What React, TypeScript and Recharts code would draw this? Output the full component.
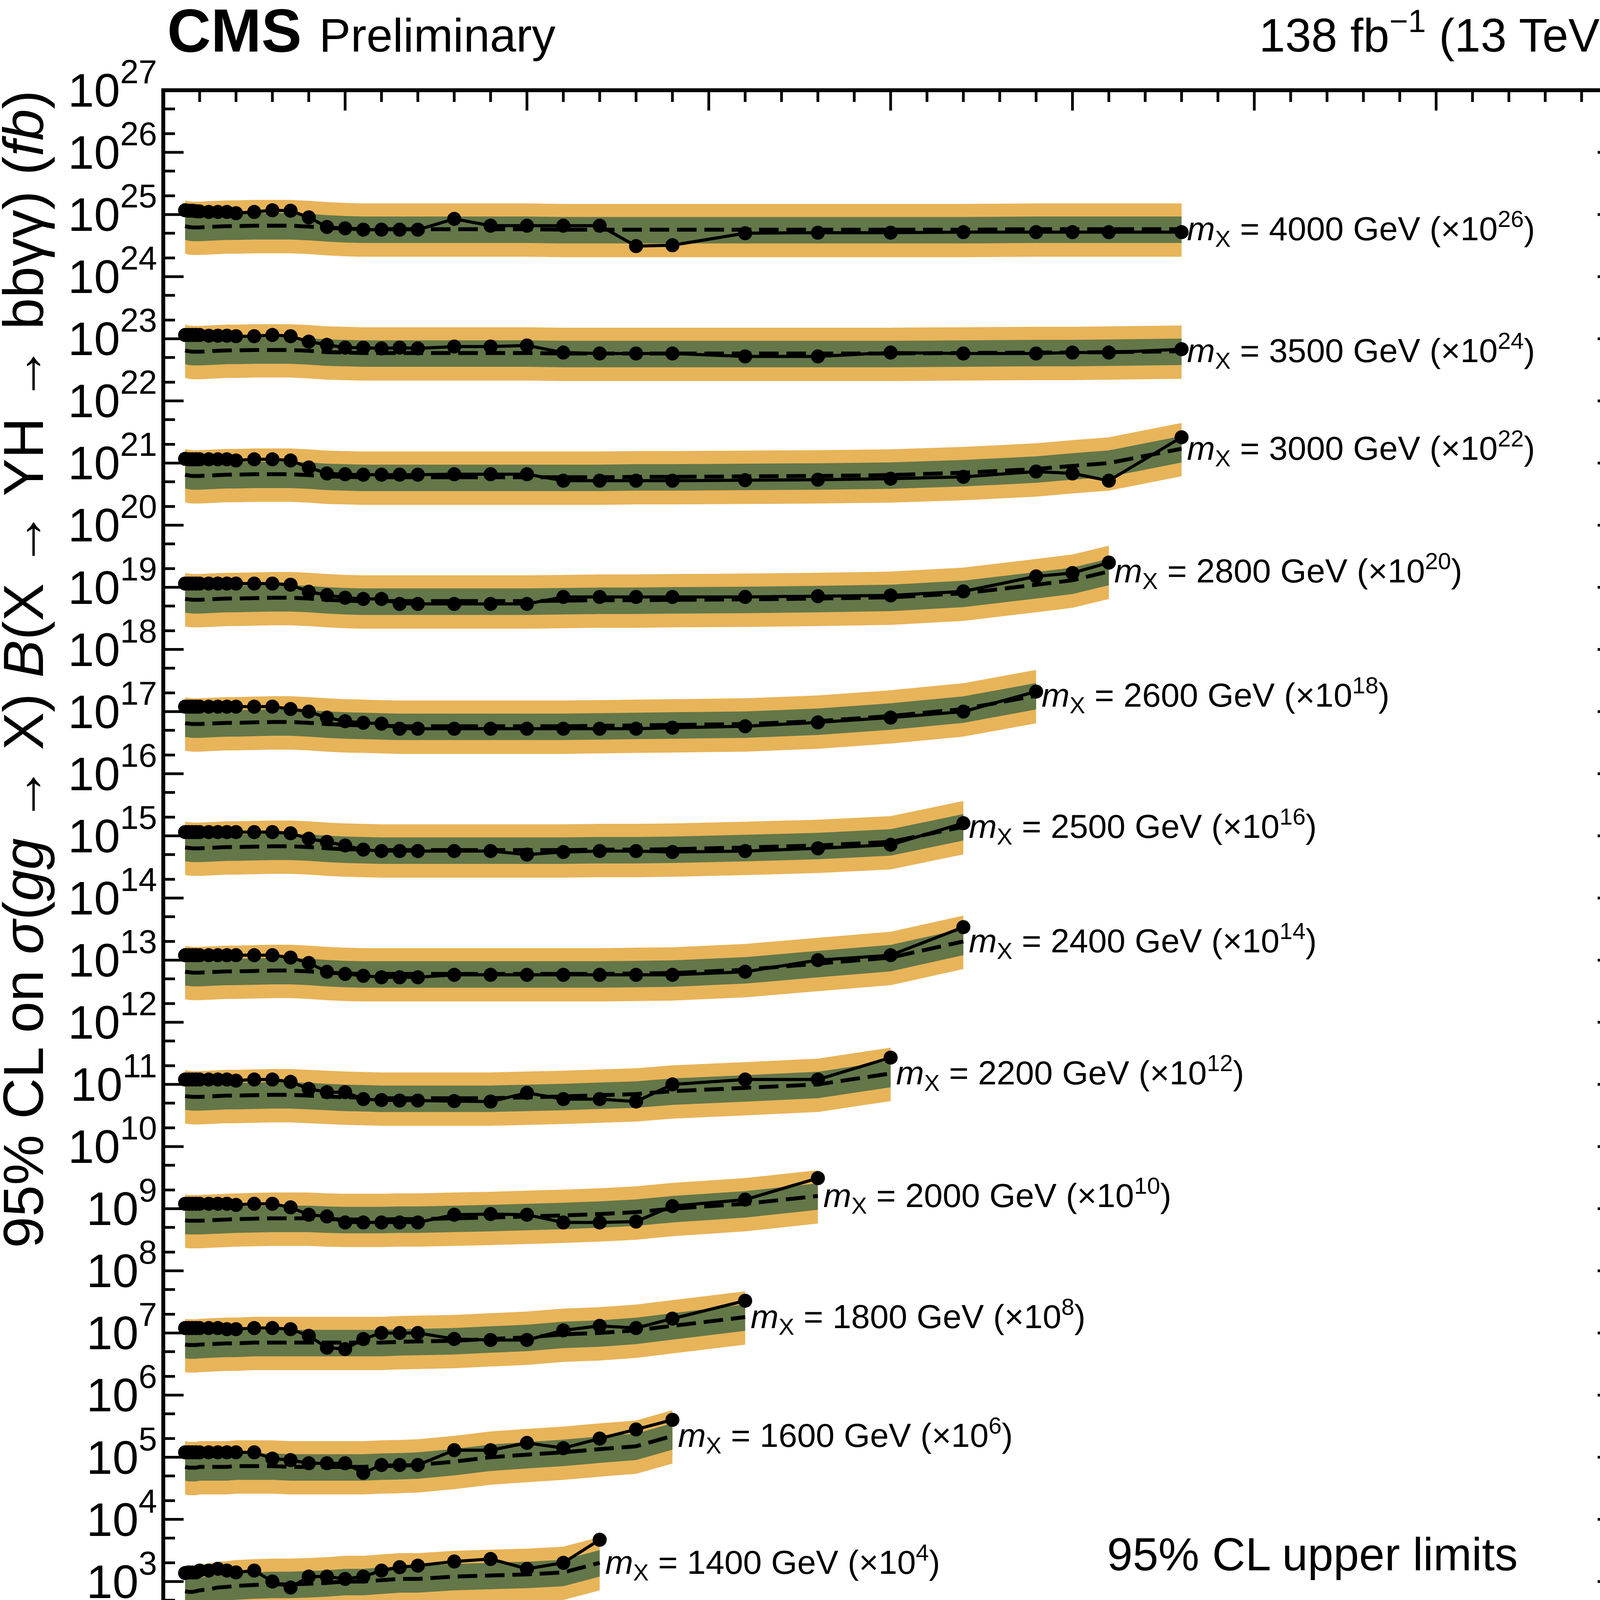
import { Area, ComposedChart, Line, ReferenceDot, XAxis, YAxis } from "recharts";

// mY grid shared by all mass points (GeV)
const MY = [60, 70, 80, 90, 100, 125, 150, 175, 200, 250, 300, 350, 400, 450, 500, 550, 600, 650, 700, 800, 900, 1000, 1100, 1200, 1300, 1400, 1600, 1800, 2000, 2200, 2400, 2500, 2600, 2800];

// unscaled limits in fb
const OBS_1000 = [0.19, 0.16, 0.16, 0.17, 0.19, 0.2, 0.21, 0.2, 0.21, 0.2, 0.23, 0.16, 0.16, 0.19, 0.19, 0.14, 0.17, 0.22, 0.31, 0.5];
const EXP_1000 = [0.08, 0.07, 0.065, 0.062, 0.06, 0.07, 0.08, 0.09, 0.095, 0.1, 0.11, 0.11, 0.1, 0.1, 0.11, 0.11, 0.12, 0.13, 0.14, 0.28];
const OBS_1200 = [0.14, 0.14, 0.13, 0.14, 0.15, 0.16, 0.18, 0.19, 0.17, 0.2, 0.18, 0.17, 0.13, 0.18, 0.18, 0.2, 0.21, 0.19, 0.15, 0.19, 0.23, 0.52];
const EXP_1200 = [0.08, 0.075, 0.07, 0.07, 0.07, 0.075, 0.08, 0.085, 0.09, 0.095, 0.1, 0.1, 0.1, 0.1, 0.1, 0.105, 0.11, 0.11, 0.115, 0.12, 0.13, 0.2];
const OBS_1400 = [0.137, 0.14, 0.14, 0.14, 0.15, 0.15, 0.16, 0.15, 0.14, 0.15, 0.1, 0.08, 0.12, 0.12, 0.11, 0.12, 0.15, 0.17, 0.18, 0.21, 0.23, 0.16, 0.2, 0.47];
const EXP_1400 = [0.07, 0.068, 0.068, 0.07, 0.072, 0.075, 0.08, 0.082, 0.085, 0.088, 0.09, 0.09, 0.092, 0.095, 0.1, 0.1, 0.105, 0.11, 0.11, 0.12, 0.125, 0.13, 0.14, 0.2];
const OBS_1600 = [0.12, 0.12, 0.12, 0.12, 0.12, 0.12, 0.12, 0.12, 0.12, 0.12, 0.095, 0.09, 0.08, 0.08, 0.08, 0.056, 0.075, 0.075, 0.075, 0.13, 0.13, 0.17, 0.14, 0.2, 0.28, 0.4];
const EXP_1600 = [0.07, 0.068, 0.068, 0.068, 0.07, 0.07, 0.07, 0.07, 0.072, 0.072, 0.072, 0.07, 0.07, 0.07, 0.07, 0.07, 0.072, 0.073, 0.075, 0.085, 0.1, 0.11, 0.12, 0.135, 0.15, 0.22];
const OBS_1800 = [0.12, 0.12, 0.12, 0.12, 0.12, 0.12, 0.12, 0.115, 0.115, 0.12, 0.12, 0.115, 0.09, 0.058, 0.055, 0.08, 0.1, 0.1, 0.1, 0.08, 0.077, 0.077, 0.11, 0.13, 0.12, 0.17, 0.33];
const EXP_1800 = [0.065, 0.064, 0.064, 0.064, 0.065, 0.066, 0.067, 0.068, 0.068, 0.07, 0.07, 0.07, 0.07, 0.07, 0.07, 0.07, 0.07, 0.072, 0.073, 0.075, 0.08, 0.085, 0.095, 0.1, 0.11, 0.13, 0.18];
const OBS_2000 = [0.12, 0.12, 0.12, 0.12, 0.12, 0.12, 0.12, 0.12, 0.115, 0.12, 0.12, 0.105, 0.08, 0.075, 0.06, 0.06, 0.06, 0.06, 0.06, 0.08, 0.082, 0.08, 0.06, 0.06, 0.062, 0.11, 0.14, 0.31];
const EXP_2000 = [0.065, 0.064, 0.064, 0.064, 0.064, 0.065, 0.066, 0.067, 0.068, 0.069, 0.07, 0.07, 0.07, 0.068, 0.067, 0.067, 0.067, 0.068, 0.068, 0.07, 0.072, 0.075, 0.078, 0.082, 0.088, 0.1, 0.12, 0.16];
const OBS_2200 = [0.12, 0.12, 0.12, 0.12, 0.12, 0.12, 0.12, 0.12, 0.115, 0.12, 0.12, 0.11, 0.085, 0.075, 0.075, 0.058, 0.056, 0.055, 0.055, 0.054, 0.053, 0.073, 0.058, 0.058, 0.053, 0.1, 0.12, 0.12, 0.27];
const EXP_2200 = [0.065, 0.064, 0.063, 0.063, 0.063, 0.064, 0.065, 0.066, 0.066, 0.067, 0.068, 0.068, 0.066, 0.064, 0.062, 0.061, 0.06, 0.06, 0.06, 0.06, 0.06, 0.062, 0.064, 0.067, 0.07, 0.078, 0.088, 0.1, 0.15];
const OBS_2400 = [0.12, 0.12, 0.12, 0.12, 0.12, 0.12, 0.12, 0.12, 0.12, 0.12, 0.12, 0.11, 0.09, 0.065, 0.06, 0.056, 0.053, 0.053, 0.053, 0.058, 0.058, 0.058, 0.058, 0.058, 0.058, 0.058, 0.065, 0.1, 0.12, 0.34];
const EXP_2400 = [0.065, 0.064, 0.063, 0.063, 0.063, 0.064, 0.065, 0.066, 0.066, 0.067, 0.068, 0.068, 0.066, 0.063, 0.061, 0.06, 0.06, 0.06, 0.06, 0.06, 0.06, 0.06, 0.06, 0.06, 0.061, 0.062, 0.07, 0.088, 0.11, 0.2];
const OBS_2500 = [0.115, 0.115, 0.115, 0.115, 0.115, 0.115, 0.115, 0.115, 0.115, 0.115, 0.115, 0.11, 0.09, 0.08, 0.07, 0.06, 0.057, 0.057, 0.057, 0.057, 0.057, 0.05, 0.055, 0.057, 0.057, 0.055, 0.057, 0.063, 0.072, 0.16];
const EXP_2500 = [0.065, 0.064, 0.063, 0.063, 0.063, 0.064, 0.065, 0.066, 0.066, 0.067, 0.068, 0.068, 0.066, 0.063, 0.061, 0.06, 0.059, 0.059, 0.059, 0.059, 0.059, 0.059, 0.059, 0.06, 0.06, 0.061, 0.065, 0.07, 0.08, 0.14];
const OBS_2600 = [0.12, 0.12, 0.12, 0.12, 0.12, 0.12, 0.12, 0.12, 0.12, 0.12, 0.12, 0.11, 0.1, 0.08, 0.07, 0.066, 0.064, 0.053, 0.053, 0.053, 0.053, 0.053, 0.053, 0.053, 0.053, 0.055, 0.058, 0.067, 0.08, 0.1, 0.21];
const EXP_2600 = [0.065, 0.064, 0.063, 0.063, 0.063, 0.064, 0.065, 0.066, 0.066, 0.067, 0.068, 0.068, 0.066, 0.063, 0.061, 0.06, 0.059, 0.058, 0.058, 0.058, 0.058, 0.058, 0.058, 0.059, 0.06, 0.061, 0.063, 0.07, 0.085, 0.11, 0.18];
const OBS_2800 = [0.115, 0.115, 0.115, 0.115, 0.115, 0.115, 0.115, 0.115, 0.115, 0.115, 0.115, 0.11, 0.085, 0.075, 0.068, 0.065, 0.065, 0.054, 0.054, 0.054, 0.054, 0.054, 0.07, 0.07, 0.07, 0.07, 0.07, 0.072, 0.074, 0.086, 0.15, 0.17, 0.25];
const EXP_2800 = [0.065, 0.064, 0.063, 0.063, 0.063, 0.064, 0.065, 0.066, 0.066, 0.067, 0.068, 0.068, 0.066, 0.063, 0.061, 0.06, 0.06, 0.06, 0.06, 0.06, 0.06, 0.06, 0.061, 0.062, 0.062, 0.063, 0.064, 0.066, 0.069, 0.08, 0.11, 0.13, 0.18];
const OBS_3000 = [0.117, 0.115, 0.115, 0.115, 0.115, 0.115, 0.115, 0.115, 0.11, 0.115, 0.115, 0.11, 0.085, 0.068, 0.066, 0.065, 0.065, 0.065, 0.065, 0.066, 0.066, 0.066, 0.052, 0.052, 0.052, 0.052, 0.053, 0.054, 0.056, 0.06, 0.073, 0.068, 0.052, 0.26];
const EXP_3000 = [0.065, 0.063, 0.062, 0.062, 0.062, 0.063, 0.064, 0.065, 0.065, 0.066, 0.066, 0.066, 0.064, 0.061, 0.06, 0.059, 0.059, 0.059, 0.059, 0.059, 0.059, 0.059, 0.059, 0.059, 0.06, 0.06, 0.061, 0.062, 0.064, 0.07, 0.08, 0.09, 0.1, 0.17];
const OBS_3500 = [0.115, 0.115, 0.115, 0.115, 0.115, 0.112, 0.112, 0.112, 0.11, 0.11, 0.115, 0.11, 0.09, 0.08, 0.072, 0.072, 0.07, 0.072, 0.07, 0.075, 0.075, 0.078, 0.06, 0.058, 0.058, 0.058, 0.052, 0.052, 0.06, 0.058, 0.058, 0.06, 0.06, 0.068];
const EXP_3500 = [0.065, 0.063, 0.062, 0.062, 0.062, 0.063, 0.064, 0.065, 0.065, 0.066, 0.066, 0.066, 0.064, 0.061, 0.06, 0.059, 0.059, 0.059, 0.059, 0.059, 0.059, 0.059, 0.058, 0.058, 0.058, 0.058, 0.058, 0.058, 0.058, 0.059, 0.06, 0.06, 0.061, 0.063];
const OBS_4000 = [0.117, 0.115, 0.115, 0.113, 0.112, 0.11, 0.11, 0.11, 0.105, 0.11, 0.117, 0.115, 0.09, 0.063, 0.06, 0.057, 0.057, 0.057, 0.057, 0.085, 0.066, 0.066, 0.066, 0.066, 0.031, 0.032, 0.05, 0.051, 0.051, 0.052, 0.052, 0.052, 0.052, 0.052];
const EXP_4000 = [0.065, 0.063, 0.062, 0.062, 0.062, 0.063, 0.064, 0.065, 0.065, 0.066, 0.066, 0.066, 0.064, 0.061, 0.059, 0.058, 0.058, 0.058, 0.058, 0.058, 0.058, 0.058, 0.057, 0.057, 0.057, 0.057, 0.057, 0.057, 0.057, 0.057, 0.058, 0.058, 0.058, 0.058];

// band edges as fractions of the median expected
const BAND_68 = [0.6, 1.6];
const BAND_95 = [0.36, 2.6];

const MX = [1000, 1200, 1400, 1600, 1800, 2000, 2200, 2400, 2500, 2600, 2800, 3000, 3500, 4000];
const SCALE_POW = [0, 2, 4, 6, 8, 10, 12, 14, 16, 18, 20, 22, 24, 26];
const OBS = [OBS_1000, OBS_1200, OBS_1400, OBS_1600, OBS_1800, OBS_2000, OBS_2200, OBS_2400, OBS_2500, OBS_2600, OBS_2800, OBS_3000, OBS_3500, OBS_4000];
const EXP = [EXP_1000, EXP_1200, EXP_1400, EXP_1600, EXP_1800, EXP_2000, EXP_2200, EXP_2400, EXP_2500, EXP_2600, EXP_2800, EXP_3000, EXP_3500, EXP_4000];

const X_TICKS = Array.from({ length: 41 }, (_, i) => i * 100);
const Y_TICKS: number[] = [];
for (let n = -2; n <= 27; n++) {
  Y_TICKS.push(Math.pow(10, n));
  if (n < 27) Y_TICKS.push(2 * Math.pow(10, n), 5 * Math.pow(10, n));
}

const W = 4293;
const H = 5171;
const PL = 418;
const PR = 4142;
const PT = 231;
const PB = 4844;
const ORANGE = "#E8B459";
const GREEN = "#637749";
const FONT = "'Liberation Sans', Arial, sans-serif";

const series = MX.map((mx, k) => {
  const s = Math.pow(10, SCALE_POW[k]);
  const data = OBS[k].map((o, i) => {
    const e = EXP[k][i];
    return {
      my: MY[i],
      obs: o * s,
      exp: e * s,
      b68: [e * BAND_68[0] * s, e * BAND_68[1] * s],
      b95: [e * BAND_95[0] * s, e * BAND_95[1] * s],
    };
  });
  return { mx, pow: SCALE_POW[k], data };
});

function YTick({ y, payload }: any) {
  const v = payload.value;
  const lg = Math.log10(v);
  const major = Math.abs(lg - Math.round(lg)) < 1e-6;
  const len = major ? 52 : 30;
  const n = Math.round(lg);
  return (
    <g>
      <line x1={PL} x2={PL + len} y1={y} y2={y} stroke="#000" strokeWidth={7} />
      <line x1={PR} x2={PR - len} y1={y} y2={y} stroke="#000" strokeWidth={7} />
      {major && (
        <text x={PL - 16} y={y + 42} textAnchor="end" fontSize={120} fontFamily={FONT} fill="#000">
          10
          <tspan dy={-60} fontSize={85}>
            {n < 0 ? `\u2212${-n}` : n}
          </tspan>
        </text>
      )}
    </g>
  );
}

function XTick({ x, payload }: any) {
  const v = payload.value;
  const major = v % 500 === 0;
  const len = major ? 52 : 30;
  return (
    <g>
      <line x1={x} x2={x} y1={PB} y2={PB - len} stroke="#000" strokeWidth={7} />
      <line x1={x} x2={x} y1={PT} y2={PT + len} stroke="#000" strokeWidth={7} />
      {major && (
        <text x={x} y={PB + 150} textAnchor="middle" fontSize={140} fontFamily={FONT} fill="#000">
          {v}
        </text>
      )}
    </g>
  );
}

function MassLabel({ cx, cy, mx, pow }: any) {
  return (
    <text x={cx + 14} y={cy + 28} fontSize={86} fontFamily={FONT} fill="#000">
      <tspan fontStyle="italic">m</tspan>
      <tspan dy={17} fontSize={60}>X</tspan>
      <tspan dy={-17}>{` = ${mx} GeV (\u00d710`}</tspan>
      <tspan dy={-34} fontSize={60}>{pow}</tspan>
      <tspan dy={34}>)</tspan>
    </text>
  );
}

export default function App() {
  return (
    <div style={{ position: "absolute", left: 0, top: 0, width: W, height: H, background: "#fff" }}>
      <ComposedChart
        width={W}
        height={H}
        margin={{ top: PT, right: W - PR, bottom: H - PB - 2, left: PL - 2 }}
      >
        <XAxis
          type="number"
          dataKey="my"
          domain={[0, 4000]}
          ticks={X_TICKS}
          interval={0}
          height={2}
          axisLine={false}
          tickLine={false}
          tickSize={0}
          tick={<XTick />}
          allowDuplicatedCategory={false}
        />
        <YAxis
          scale="log"
          domain={[1e-2, 1e27]}
          ticks={Y_TICKS}
          interval={0}
          width={2}
          axisLine={false}
          tickLine={false}
          tickSize={0}
          tick={<YTick />}
          allowDataOverflow
        />
        {series.map((s) => (
          <Area key={`b95-${s.mx}`} data={s.data} dataKey="b95" type="linear" fill={ORANGE} fillOpacity={1} stroke="none" isAnimationActive={false} />
        ))}
        {series.map((s) => (
          <Area key={`b68-${s.mx}`} data={s.data} dataKey="b68" type="linear" fill={GREEN} fillOpacity={1} stroke="none" isAnimationActive={false} />
        ))}
        {series.map((s) => (
          <Line key={`exp-${s.mx}`} data={s.data} dataKey="exp" type="linear" stroke="#000" strokeWidth={10} strokeDasharray="50 20" dot={false} isAnimationActive={false} />
        ))}
        {series.map((s) => (
          <Line key={`obs-${s.mx}`} data={s.data} dataKey="obs" type="linear" stroke="#000" strokeWidth={8} dot={{ r: 18, fill: "#000", stroke: "#000", strokeWidth: 0 }} isAnimationActive={false} />
        ))}
        {series.map((s) => {
          const last = s.data[s.data.length - 1];
          return (
            <ReferenceDot
              key={`lab-${s.mx}`}
              x={last.my}
              y={last.exp}
              r={0}
              shape={(p: any) => <MassLabel cx={p.cx} cy={p.cy} mx={s.mx} pow={s.pow} />}
            />
          );
        })}
      </ComposedChart>
      <svg width={W} height={H} style={{ position: "absolute", left: 0, top: 0, pointerEvents: "none" }}>
        <rect x={PL} y={PT} width={PR - PL} height={PB - PT} fill="none" stroke="#000" strokeWidth={10} />
        <text x={428} y={132} fontSize={155} fontWeight="bold" fontFamily={FONT}>CMS</text>
        <text x={817} y={132} fontSize={121} fontFamily={FONT}>Preliminary</text>
        <text x={4135} y={132} textAnchor="end" fontSize={120} fontFamily={FONT}>
          138 fb<tspan dy={-50} fontSize={82}>{"\u22121"}</tspan>
          <tspan dy={50}> (13 TeV)</tspan>
        </text>
        <text x={4135} y={5124} textAnchor="end" fontSize={130} fontFamily={FONT}>
          <tspan fontStyle="italic">m</tspan>
          <tspan dy={22} fontSize={90}>Y</tspan>
          <tspan dy={-22}> (GeV)</tspan>
        </text>
        <text transform="rotate(-90 110 231)" x={110} y={231} textAnchor="end" fontSize={145} fontFamily={FONT}>
          {"95% CL on "}
          <tspan fontStyle="italic">{"\u03c3"}</tspan>
          {"("}
          <tspan fontStyle="italic">gg</tspan>
          {" \u2192 X) "}
          <tspan fontStyle="italic">B</tspan>
          {"(X \u2192 YH \u2192 bb\u03b3\u03b3) ("}
          <tspan fontStyle="italic">fb</tspan>
          {")"}
        </text>
        {/* legend */}
        <text x={2834} y={4020} fontSize={118} fontFamily={FONT}>95% CL upper limits</text>
        <line x1={2834} x2={3021} y1={4145} y2={4145} stroke="#000" strokeWidth={8} />
        <circle cx={2927} cy={4145} r={18} fill="#000" />
        <text x={3114} y={4187} fontSize={118} fontFamily={FONT}>Observed</text>
        <line x1={2834} x2={3021} y1={4320} y2={4320} stroke="#000" strokeWidth={10} strokeDasharray="50 20" />
        <text x={3114} y={4362} fontSize={118} fontFamily={FONT}>Median expected</text>
        <rect x={2834} y={4445} width={187} height={92} fill={GREEN} />
        <text x={3114} y={4533} fontSize={118} fontFamily={FONT}>68% expected</text>
        <rect x={2834} y={4616} width={187} height={92} fill={ORANGE} />
        <text x={3114} y={4704} fontSize={118} fontFamily={FONT}>95% expected</text>
      </svg>
    </div>
  );
}
